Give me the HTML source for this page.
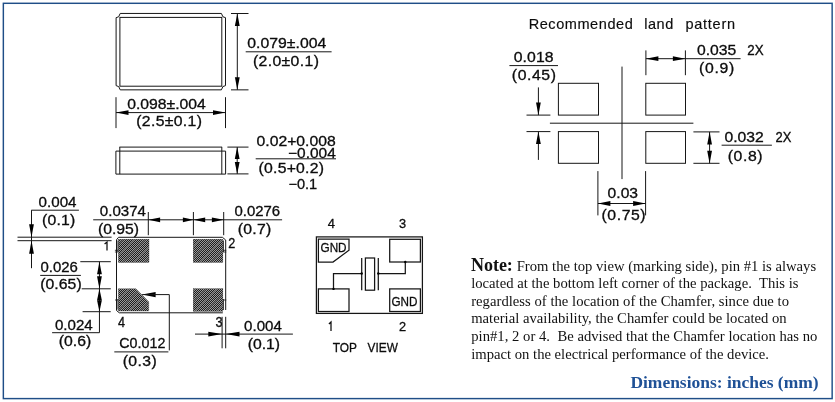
<!DOCTYPE html>
<html><head><meta charset="utf-8"><title>Package dimensions</title>
<style>
html,body{margin:0;padding:0;background:#fff;}
body{width:835px;height:402px;overflow:hidden;}
svg{display:block;will-change:transform;}
.cad{font-family:"Liberation Sans",sans-serif;fill:#0c0c0c;stroke:#0c0c0c;stroke-width:0.3px;}
.cl{stroke-width:0.15px;}
.nt{font-family:"Liberation Serif",serif;font-size:14.65px;fill:#111;}
.nb{font-family:"Liberation Serif",serif;font-size:18px;font-weight:bold;fill:#111;}
.dm{font-family:"Liberation Serif",serif;font-size:17.35px;font-weight:bold;fill:#1f5196;}
</style></head><body>
<svg width="835" height="402" viewBox="0 0 835 402">
<rect x="0" y="0" width="835" height="402" fill="#fff"/>
<g style="will-change:transform">
<rect x="3.35" y="3.3" width="828.8" height="395.3" fill="none" stroke="#1f4e87" stroke-width="1.45"/>
<polygon points="120.19999999999999,13.45 221.4,13.45 222.9,16.75 225.5,17.65 225.5,85.64999999999999 222.9,86.55 221.4,89.85 120.19999999999999,89.85 118.69999999999999,86.55 116.1,85.64999999999999 116.1,17.65 118.69999999999999,16.75" fill="none" stroke="#161616" stroke-width="1.0"/>
<rect x="119.9" y="17.4" width="101.9" height="68.8" fill="none" stroke="#161616" stroke-width="1.0"/>
<line x1="231" y1="13.5" x2="248.5" y2="13.5" stroke="#161616" stroke-width="1.0"/>
<line x1="231" y1="89.85" x2="248.5" y2="89.85" stroke="#161616" stroke-width="1.0"/>
<line x1="237.3" y1="13.5" x2="237.3" y2="89.85" stroke="#161616" stroke-width="1.0"/>
<polygon points="237.3,13.5 234.9,26.0 239.7,26.0" fill="#000"/>
<polygon points="237.3,89.85 234.9,77.35 239.7,77.35" fill="#000"/>
<text transform="translate(247.2,48.1) scale(1.12,1)" font-size="14.1" letter-spacing="0.034" class="cad">0.079±.004</text>
<line x1="245.7" y1="51.8" x2="331.6" y2="51.8" stroke="#161616" stroke-width="1.0"/>
<text transform="translate(252.9,65.8) scale(1.12,1)" font-size="14.1" letter-spacing="0.336" class="cad">(2.0±0.1)</text>
<line x1="116" y1="97.2" x2="116" y2="128.1" stroke="#161616" stroke-width="1.0"/>
<line x1="225.5" y1="97.2" x2="225.5" y2="128.1" stroke="#161616" stroke-width="1.0"/>
<line x1="116" y1="112.6" x2="225.5" y2="112.6" stroke="#161616" stroke-width="1.0"/>
<polygon points="116,112.6 128.5,110.2 128.5,115.0" fill="#000"/>
<polygon points="225.5,112.6 213.0,110.2 213.0,115.0" fill="#000"/>
<text transform="translate(127.2,109.3) scale(1.1177,1)" font-size="14.1" class="cad">0.098±.004</text>
<text transform="translate(136.2,126.1) scale(1.12,1)" font-size="14.1" letter-spacing="0.303" class="cad">(2.5±0.1)</text>
<line x1="119.4" y1="147.1" x2="222.1" y2="147.1" stroke="#161616" stroke-width="1.0"/>
<line x1="115.9" y1="151.1" x2="225.6" y2="151.1" stroke="#161616" stroke-width="1.0"/>
<line x1="115.9" y1="174.1" x2="225.6" y2="174.1" stroke="#161616" stroke-width="1.0"/>
<line x1="115.9" y1="151.1" x2="115.9" y2="174.1" stroke="#161616" stroke-width="1.0"/>
<line x1="225.6" y1="151.1" x2="225.6" y2="174.1" stroke="#161616" stroke-width="1.0"/>
<line x1="119.8" y1="147.1" x2="119.8" y2="174.1" stroke="#161616" stroke-width="1.0"/>
<line x1="221.8" y1="147.1" x2="221.8" y2="174.1" stroke="#161616" stroke-width="1.0"/>
<line x1="227.4" y1="147.1" x2="248.5" y2="147.1" stroke="#161616" stroke-width="1.0"/>
<line x1="227.4" y1="173.9" x2="248.5" y2="173.9" stroke="#161616" stroke-width="1.0"/>
<line x1="237.2" y1="147.1" x2="237.2" y2="173.9" stroke="#161616" stroke-width="1.0"/>
<polygon points="237.2,147.1 234.8,159.1 239.6,159.1" fill="#000"/>
<polygon points="237.2,173.9 234.8,161.9 239.6,161.9" fill="#000"/>
<text transform="translate(256.5,145.8) scale(1.117,1)" font-size="14.1" class="cad">0.02+0.008</text>
<text transform="translate(288.1,157.8) scale(1.0966,1)" font-size="14.1" class="cad">−0.004</text>
<line x1="255.7" y1="158.8" x2="336" y2="158.8" stroke="#161616" stroke-width="1.0"/>
<text transform="translate(258.6,173) scale(1.12,1)" font-size="14.1" letter-spacing="0.196" class="cad">(0.5+0.2)</text>
<text transform="translate(288.4,189) scale(1.0342,1)" font-size="14.1" class="cad">−0.1</text>
<defs><pattern id="h" width="2" height="2" patternUnits="userSpaceOnUse"><rect width="2" height="2" fill="#1c1c1c"/><rect x="0" y="0" width="1" height="1" fill="#9c9c9c"/><rect x="1" y="1" width="1" height="1" fill="#9c9c9c"/></pattern><pattern id="hb" width="11" height="11" patternUnits="userSpaceOnUse"><path d="M-2,13 L13,-2 M-2,2 L2,-2 M9,13 L13,9" stroke="#6a6a6a" stroke-width="1.4" stroke-opacity="0.7" fill="none"/></pattern></defs>
<rect x="118.4" y="239.2" width="30.6" height="23.2" fill="url(#h)" stroke="#222" stroke-width="0.3"/>
<rect x="118.4" y="239.2" width="30.6" height="23.2" fill="url(#hb)"/>
<rect x="193.2" y="239.2" width="29.7" height="23.2" fill="url(#h)" stroke="#222" stroke-width="0.3"/>
<rect x="193.2" y="239.2" width="29.7" height="23.2" fill="url(#hb)"/>
<rect x="193.2" y="288.7" width="29.7" height="22.6" fill="url(#h)" stroke="#222" stroke-width="0.3"/>
<rect x="193.2" y="288.7" width="29.7" height="22.6" fill="url(#hb)"/>
<polygon points="118.4,288.7 135.8,288.7 148.7,301.8 148.7,311 118.4,311" fill="url(#h)" stroke="#222" stroke-width="0.3"/>
<polygon points="118.4,288.7 135.8,288.7 148.7,301.8 148.7,311 118.4,311" fill="url(#hb)"/>
<line x1="17.5" y1="237.2" x2="111.6" y2="237.2" stroke="#161616" stroke-width="1.0"/>
<line x1="17.5" y1="240.7" x2="111.6" y2="240.7" stroke="#161616" stroke-width="1.0"/>
<line x1="118.5" y1="237.3" x2="222.4" y2="237.3" stroke="#161616" stroke-width="1.0"/>
<line x1="116.5" y1="239.8" x2="116.5" y2="310.5" stroke="#161616" stroke-width="1.0"/>
<polyline points="116.5,310.5 119.3,312.8 222.8,312.8" fill="none" stroke="#161616" stroke-width="1.0"/>
<polyline points="222.4,237.3 225.7,240 225.7,310" fill="none" stroke="#161616" stroke-width="1.0"/>
<polyline points="118.5,237.3 116.5,239.8" fill="none" stroke="#161616" stroke-width="1.0"/>
<line x1="117.9" y1="240.5" x2="117.9" y2="252" stroke="#161616" stroke-width="0.8"/>
<line x1="114.9" y1="250.3" x2="118" y2="250.3" stroke="#161616" stroke-width="0.8"/>
<line x1="114.9" y1="252" x2="118" y2="252" stroke="#161616" stroke-width="0.8"/>
<line x1="117.9" y1="299" x2="117.9" y2="309.5" stroke="#161616" stroke-width="0.8"/>
<line x1="115" y1="300" x2="118" y2="300" stroke="#161616" stroke-width="0.8"/>
<line x1="223.5" y1="240.5" x2="223.5" y2="252" stroke="#161616" stroke-width="0.8"/>
<line x1="223" y1="250.3" x2="226.3" y2="250.3" stroke="#161616" stroke-width="0.8"/>
<line x1="223" y1="252" x2="226.3" y2="252" stroke="#161616" stroke-width="0.8"/>
<line x1="223.5" y1="299" x2="223.5" y2="310" stroke="#161616" stroke-width="0.8"/>
<line x1="223" y1="300" x2="226.3" y2="300" stroke="#161616" stroke-width="0.8"/>
<text transform="translate(38.6,206.8) scale(1.0759,1)" font-size="14.1" class="cad">0.004</text>
<line x1="31.3" y1="210.2" x2="78.9" y2="210.2" stroke="#161616" stroke-width="1.0"/>
<text transform="translate(42.0,224.5) scale(1.12,1)" font-size="14.1" letter-spacing="0.167" class="cad">(0.1)</text>
<line x1="31.5" y1="210.2" x2="31.5" y2="268.2" stroke="#161616" stroke-width="1.0"/>
<polygon points="31.5,237.2 29.1,224.2 33.9,224.2" fill="#000"/>
<polygon points="31.5,240.7 29.1,253.7 33.9,253.7" fill="#000"/>
<text transform="translate(99.8,216.2) scale(1.0708,1)" font-size="14.1" class="cad">0.0374</text>
<text transform="translate(97.9,233.9) scale(1.1168,1)" font-size="14.1" class="cad">(0.95)</text>
<line x1="93.2" y1="219.8" x2="282.1" y2="219.8" stroke="#161616" stroke-width="1.0"/>
<line x1="148.3" y1="212" x2="148.3" y2="235.2" stroke="#161616" stroke-width="1.0"/>
<line x1="193.4" y1="212" x2="193.4" y2="235.2" stroke="#161616" stroke-width="1.0"/>
<line x1="223.7" y1="212" x2="223.7" y2="235.2" stroke="#161616" stroke-width="1.0"/>
<polygon points="148.3,219.8 160.1,217.4 160.1,222.2" fill="#000"/>
<polygon points="193.4,219.8 182.9,217.4 182.9,222.2" fill="#000"/>
<polygon points="193.4,219.8 205.2,217.4 205.2,222.2" fill="#000"/>
<polygon points="223.7,219.8 211.9,217.4 211.9,222.2" fill="#000"/>
<text transform="translate(234.5,216.2) scale(1.0592,1)" font-size="14.1" class="cad">0.0276</text>
<text transform="translate(237.7,233.9) scale(1.12,1)" font-size="14.1" letter-spacing="0.234" class="cad">(0.7)</text>
<path d="M104.6,244 L107,242.1 L107,250.6" fill="none" stroke="#0c0c0c" stroke-width="1.25"/>
<text transform="translate(228.28,247.5) scale(0.9,1)" font-size="14.1" class="cad">2</text>
<text transform="translate(40.5,271.7) scale(1.0589,1)" font-size="14.1" class="cad">0.026</text>
<line x1="40.2" y1="275.4" x2="80.9" y2="275.4" stroke="#161616" stroke-width="1.0"/>
<text transform="translate(40.2,288.9) scale(1.12,1)" font-size="14.1" letter-spacing="0.051" class="cad">(0.65)</text>
<line x1="80.3" y1="261.7" x2="110.8" y2="261.7" stroke="#161616" stroke-width="1.0"/>
<line x1="81.7" y1="288.8" x2="110.8" y2="288.8" stroke="#161616" stroke-width="1.0"/>
<line x1="82.6" y1="311.7" x2="110.7" y2="311.7" stroke="#161616" stroke-width="1.0"/>
<line x1="99.45" y1="261.7" x2="99.45" y2="332.7" stroke="#161616" stroke-width="1.0"/>
<polygon points="99.45,261.7 97.05,274.2 101.85,274.2" fill="#000"/>
<polygon points="99.45,288.8 97.05,276.3 101.85,276.3" fill="#000"/>
<polygon points="99.45,288.8 97.05,300.3 101.85,300.3" fill="#000"/>
<polygon points="99.45,311.7 97.05,300.2 101.85,300.2" fill="#000"/>
<text transform="translate(54.9,329.5) scale(1.073,1)" font-size="14.1" class="cad">0.024</text>
<line x1="52.1" y1="332.7" x2="99.45" y2="332.7" stroke="#161616" stroke-width="1.0"/>
<text transform="translate(58.7,346.4) scale(1.12,1)" font-size="14.1" letter-spacing="0.033" class="cad">(0.6)</text>
<text transform="translate(117.93,327.2) scale(0.9,1)" font-size="14.1" class="cad">4</text>
<text transform="translate(215.58,326.9) scale(0.9,1)" font-size="14.1" class="cad">3</text>
<polygon points="142.1,294.6 155.6,291.9 155.6,297.3" fill="#000"/>
<line x1="142.1" y1="294.6" x2="169.3" y2="294.6" stroke="#161616" stroke-width="1.0"/>
<line x1="169.3" y1="294.6" x2="169.3" y2="350.4" stroke="#161616" stroke-width="1.0"/>
<text transform="translate(119.3,348.3) scale(1.0138,1)" font-size="14.1" class="cad">C0.012</text>
<line x1="114.3" y1="351.9" x2="168.4" y2="351.9" stroke="#161616" stroke-width="1.0"/>
<text transform="translate(122.7,365.6) scale(1.12,1)" font-size="14.1" letter-spacing="0.345" class="cad">(0.3)</text>
<line x1="222.1" y1="316.8" x2="222.1" y2="348.3" stroke="#161616" stroke-width="1.0"/>
<line x1="225.7" y1="316.8" x2="225.7" y2="348.3" stroke="#161616" stroke-width="1.0"/>
<line x1="195" y1="334.1" x2="292.9" y2="334.1" stroke="#161616" stroke-width="1.0"/>
<polygon points="222.1,334.1 208.3,331.7 208.3,336.5" fill="#000"/>
<polygon points="225.7,334.1 239.5,331.7 239.5,336.5" fill="#000"/>
<text transform="translate(244.1,330.8) scale(1.0702,1)" font-size="14.1" class="cad">0.004</text>
<text transform="translate(247.7,348.7) scale(1.1182,1)" font-size="14.1" class="cad">(0.1)</text>
<rect x="316.4" y="236.9" width="106.0" height="76.5" fill="none" stroke="#161616" stroke-width="1.25"/>
<polygon points="318.4,239.1 349,239.1 349,250.3 333,262 318.4,262" fill="none" stroke="#161616" stroke-width="1.25"/>
<rect x="389.7" y="239.3" width="30.7" height="22.7" fill="none" stroke="#161616" stroke-width="1.25"/>
<rect x="318.4" y="288.9" width="30.6" height="22.6" fill="none" stroke="#161616" stroke-width="1.25"/>
<rect x="389.7" y="288.9" width="30.7" height="22.6" fill="none" stroke="#161616" stroke-width="1.25"/>
<text transform="translate(320.5,252.3) scale(0.8774,1)" font-size="13.4" class="cad">GND</text>
<text transform="translate(391.4,306.2) scale(0.874,1)" font-size="13.4" class="cad">GND</text>
<line x1="361.7" y1="258" x2="361.7" y2="290.2" stroke="#161616" stroke-width="1.25"/>
<line x1="378.3" y1="258" x2="378.3" y2="290.2" stroke="#161616" stroke-width="1.25"/>
<rect x="365.4" y="258" width="9.2" height="32.2" fill="none" stroke="#161616" stroke-width="1.25"/>
<polyline points="361.7,273.5 333.5,273.5 333.5,288.9" fill="none" stroke="#161616" stroke-width="1.25"/>
<polyline points="378.3,273.5 405.3,273.5 405.3,262" fill="none" stroke="#161616" stroke-width="1.25"/>
<circle cx="361.7" cy="273.5" r="1.2" fill="#000"/>
<circle cx="378.3" cy="273.5" r="1.2" fill="#000"/>
<circle cx="333.5" cy="288.9" r="1.2" fill="#000"/>
<circle cx="405.3" cy="262" r="1.2" fill="#000"/>
<text transform="translate(327.7,227.6) scale(0.9681,1)" font-size="13.4" class="cad">4</text>
<text transform="translate(398.9,227.6) scale(0.9547,1)" font-size="13.4" class="cad">3</text>
<path d="M328.9,324 L331,322 L331,331" fill="none" stroke="#0c0c0c" stroke-width="1.25"/>
<text transform="translate(398.9,331) scale(0.9547,1)" font-size="13.4" class="cad">2</text>
<text transform="translate(332.7,352) scale(0.8889,1)" font-size="13.4" class="cad">TOP</text>
<text transform="translate(367.6,352) scale(0.8821,1)" font-size="13.4" class="cad">VIEW</text>
<text transform="translate(528.7,28.8) scale(1.03,1)" font-size="14.1" letter-spacing="0.547" class="cad cl">Recommended</text>
<text transform="translate(644.3,28.8) scale(1.03,1)" font-size="14.1" letter-spacing="0.502" class="cad cl">land</text>
<text transform="translate(685.4,28.8) scale(1.03,1)" font-size="14.1" letter-spacing="0.722" class="cad cl">pattern</text>
<rect x="558.4" y="83.3" width="40.1" height="31.8" fill="none" stroke="#161616" stroke-width="1.0"/>
<rect x="645.8" y="83.3" width="39.7" height="31.8" fill="none" stroke="#161616" stroke-width="1.0"/>
<rect x="558.4" y="131.6" width="40.1" height="31.7" fill="none" stroke="#161616" stroke-width="1.0"/>
<rect x="645.8" y="131.6" width="39.7" height="31.7" fill="none" stroke="#161616" stroke-width="1.0"/>
<line x1="549.9" y1="123.2" x2="693.4" y2="123.2" stroke="#161616" stroke-width="1.0"/>
<line x1="622" y1="66.6" x2="622" y2="179.1" stroke="#161616" stroke-width="1.0"/>
<text transform="translate(513.7,62) scale(1.12,1)" font-size="14.1" letter-spacing="0.098" class="cad">0.018</text>
<line x1="509.4" y1="65.6" x2="558" y2="65.6" stroke="#161616" stroke-width="1.0"/>
<text transform="translate(511.8,80.1) scale(1.12,1)" font-size="14.1" letter-spacing="0.533" class="cad">(0.45)</text>
<line x1="538.4" y1="87.4" x2="538.4" y2="115.1" stroke="#161616" stroke-width="1.0"/>
<line x1="538.4" y1="131.6" x2="538.4" y2="159.9" stroke="#161616" stroke-width="1.0"/>
<polygon points="538.4,115.1 536.0,102.6 540.8,102.6" fill="#000"/>
<polygon points="538.4,131.6 536.0,144.1 540.8,144.1" fill="#000"/>
<line x1="526.5" y1="115.1" x2="550.4" y2="115.1" stroke="#161616" stroke-width="1.0"/>
<line x1="526.5" y1="131.6" x2="550.4" y2="131.6" stroke="#161616" stroke-width="1.0"/>
<line x1="645.9" y1="50.4" x2="645.9" y2="75.2" stroke="#161616" stroke-width="1.0"/>
<line x1="685.4" y1="50.4" x2="685.4" y2="75.2" stroke="#161616" stroke-width="1.0"/>
<line x1="645.9" y1="58.7" x2="740.6" y2="58.7" stroke="#161616" stroke-width="1.0"/>
<polygon points="645.9,58.7 658.4,56.3 658.4,61.1" fill="#000"/>
<polygon points="685.4,58.7 672.9,56.3 672.9,61.1" fill="#000"/>
<text transform="translate(697.0,54.8) scale(1.1155,1)" font-size="14.1" class="cad">0.035</text>
<text transform="translate(747.3,54.8) scale(0.9495,1)" font-size="14.1" class="cad">2X</text>
<text transform="translate(699.0,73.2) scale(1.12,1)" font-size="14.1" letter-spacing="0.613" class="cad">(0.9)</text>
<line x1="693.4" y1="131.9" x2="719.5" y2="131.9" stroke="#161616" stroke-width="1.0"/>
<line x1="693.4" y1="163.3" x2="719.5" y2="163.3" stroke="#161616" stroke-width="1.0"/>
<line x1="709.6" y1="131.9" x2="709.6" y2="163.3" stroke="#161616" stroke-width="1.0"/>
<polygon points="709.6,131.9 707.2,144.4 712.0,144.4" fill="#000"/>
<polygon points="709.6,163.3 707.2,150.8 712.0,150.8" fill="#000"/>
<text transform="translate(724.4,142.2) scale(1.1155,1)" font-size="14.1" class="cad">0.032</text>
<line x1="721.6" y1="145.2" x2="771.9" y2="145.2" stroke="#161616" stroke-width="1.0"/>
<text transform="translate(775.6,142.2) scale(0.9205,1)" font-size="14.1" class="cad">2X</text>
<text transform="translate(727.8,160.5) scale(1.12,1)" font-size="14.1" letter-spacing="0.502" class="cad">(0.8)</text>
<line x1="597.9" y1="171.1" x2="597.9" y2="215.4" stroke="#161616" stroke-width="1.0"/>
<line x1="645.6" y1="171.1" x2="645.6" y2="215.4" stroke="#161616" stroke-width="1.0"/>
<line x1="597.9" y1="203.5" x2="645.6" y2="203.5" stroke="#161616" stroke-width="1.0"/>
<polygon points="597.9,203.5 610.4,201.1 610.4,205.9" fill="#000"/>
<polygon points="645.6,203.5 633.1,201.1 633.1,205.9" fill="#000"/>
<text transform="translate(607.6,197.9) scale(1.1085,1)" font-size="14.1" class="cad">0.03</text>
<text transform="translate(601.5,220.1) scale(1.12,1)" font-size="14.1" letter-spacing="0.515" class="cad">(0.75)</text>
<text x="470.9" y="271" class="nb">Note:</text>
<text x="516.7" y="270.9" class="nt" textLength="299.4" lengthAdjust="spacing">From the top view (marking side), pin #1 is always</text>
<text x="471.2" y="288.0" class="nt" textLength="327.3" lengthAdjust="spacing">located at the bottom left corner of the package.  This is</text>
<text x="471.2" y="305.8" class="nt" textLength="317.8" lengthAdjust="spacing">regardless of the location of the Chamfer, since due to</text>
<text x="471.2" y="323.4" class="nt" textLength="315.5" lengthAdjust="spacing">material availability, the Chamfer could be located on</text>
<text x="471.2" y="340.8" class="nt" textLength="346.2" lengthAdjust="spacing">pin#1, 2 or 4.  Be advised that the Chamfer location has no</text>
<text x="471.2" y="358.7" class="nt" textLength="297.8" lengthAdjust="spacing">impact on the electrical performance of the device.</text>
<text x="630.4" y="388" class="dm" textLength="188.2" lengthAdjust="spacingAndGlyphs">Dimensions: inches (mm)</text>
</g>
</svg>
</body></html>
